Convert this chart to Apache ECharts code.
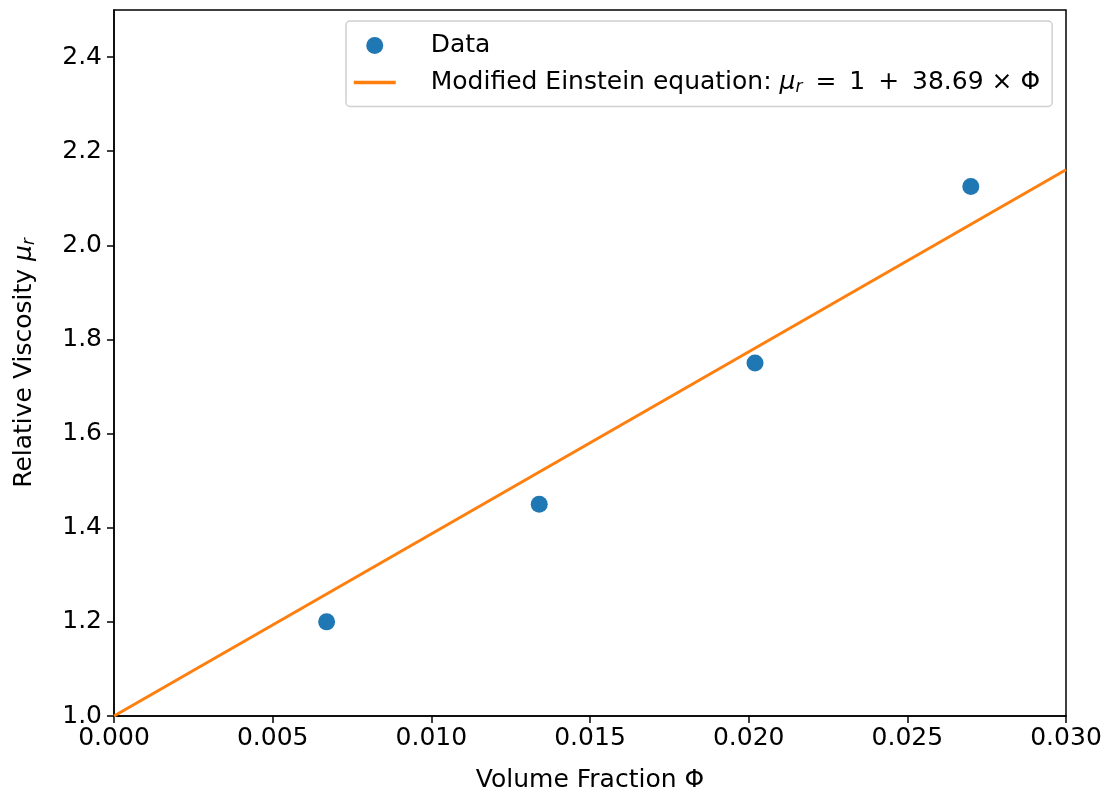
<!DOCTYPE html>
<html lang="en">
<head>
    <meta charset="UTF-8">
    <title>Relative Viscosity</title>
    <script src="https://cdn.jsdelivr.net/npm/echarts@6/dist/echarts.min.js"></script>
</head>
<body style="margin:0">
<div id="main" style="width:1109px;height:798px"></div>
<script>
    // measured points
    var fraction = [0.0067, 0.0134, 0.0202, 0.0270];
    var viscosity = [1.20, 1.45, 1.75, 2.125];
    // fitted line mu_r = 1 + 38.69 * phi, end points
    var fitX = [0.0, 0.030];
    var fitY = [1.0, 2.1607];

    var font = 'DejaVu Sans';
    var black = '#000';
    var fs = 25;

    function pairs(xs, ys) {
        var out = [];
        for (var i = 0; i < xs.length; i++) {
            out.push([xs[i], ys[i]]);
        }
        return out;
    }

    var richMath = {
        i: {fontFamily: font, fontSize: fs, fontStyle: 'italic', color: black},
        s: {fontFamily: font, fontSize: 17, fontStyle: 'italic', color: black, padding: [11, 0, 0, 0]}
    };

    var myChart = echarts.init(document.getElementById('main'));

    var option = {
        animation: false,
        textStyle: {fontFamily: font},
        grid: {
            left: 114, right: 43, top: 10, bottom: 80,
            show: true, borderColor: black, borderWidth: 1.5
        },
        legend: {
            left: 346,
            top: 21,
            orient: 'vertical',
            padding: [12, 12, 10, 6],
            itemGap: 12,
            itemWidth: 42,
            itemHeight: 17,
            backgroundColor: '#fff',
            borderColor: '#d0d0d0',
            borderWidth: 1.5,
            borderRadius: 4,
            textStyle: {
                fontFamily: font,
                fontSize: fs,
                color: black,
                padding: [0, 0, 0, 30],
                rich: richMath
            },
            formatter: function (name) {
                if (name == 'fit') {
                    var t = '\u2009';
                    return 'Modified Einstein equation: {i|μ}{s|r}' +
                        t + ' = ' + t + '1' + t + ' + ' + t + '38.69 × Φ';
                }
                return name;
            },
            data: [
                {name: 'Data', icon: 'circle', itemStyle: {color: '#1f77b4'}},
                {name: 'fit', itemStyle: {opacity: 0}, lineStyle: {color: '#ff7f0e', width: 3.5}}
            ]
        },
        xAxis: {
            type: 'value',
            min: 0,
            max: 0.03,
            interval: 0.005,
            name: 'Volume Fraction Φ',
            nameLocation: 'middle',
            nameGap: 52,
            nameTextStyle: {fontFamily: font, fontSize: fs, color: black},
            splitLine: {show: false},
            axisLine: {lineStyle: {color: black, width: 1.5}},
            axisTick: {length: 7, lineStyle: {color: black, width: 1.5}},
            axisLabel: {
                fontFamily: font, fontSize: fs, color: black, margin: 10,
                formatter: function (v) { return v.toFixed(3); }
            }
        },
        yAxis: {
            type: 'value',
            min: 1.0,
            max: 2.5,
            interval: 0.2,
            name: 'Relative Viscosity {i|μ}{s|r}',
            nameLocation: 'middle',
            nameGap: 76,
            nameTextStyle: {
                fontFamily: font, fontSize: fs, color: black,
                rich: richMath
            },
            splitLine: {show: false},
            axisLine: {show: true, lineStyle: {color: black, width: 1.5}},
            axisTick: {show: true, length: 7, lineStyle: {color: black, width: 1.5}},
            axisLabel: {
                fontFamily: font, fontSize: fs, color: black, margin: 12,
                showMaxLabel: false,
                formatter: function (v) { return v.toFixed(1); }
            }
        },
        series: [
            {
                name: 'fit',
                type: 'line',
                data: pairs(fitX, fitY),
                symbol: 'none',
                lineStyle: {color: '#ff7f0e', width: 3},
                itemStyle: {color: '#ff7f0e'},
                z: 2
            },
            {
                name: 'Data',
                type: 'scatter',
                data: pairs(fraction, viscosity),
                symbolSize: 17,
                itemStyle: {color: '#1f77b4', opacity: 1},
                z: 3
            }
        ]
    };

    myChart.setOption(option);
</script>
</body>
</html>
